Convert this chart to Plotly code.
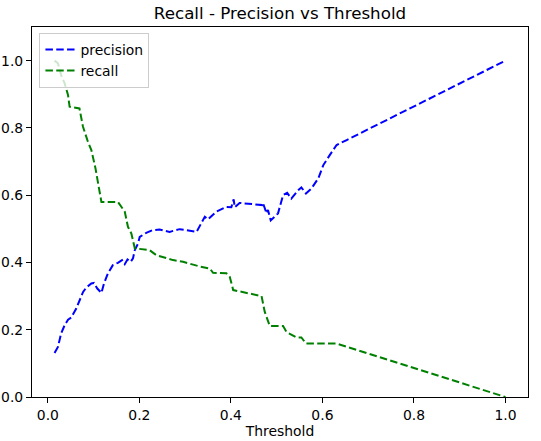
import plotly.graph_objects as go

precision_threshold = [0.0146, 0.022, 0.029, 0.0365, 0.044, 0.051, 0.062, 0.069, 0.077, 0.084,
                       0.095, 0.1007, 0.108, 0.117, 0.1226, 0.131, 0.142, 0.153, 0.162, 0.168,
                       0.174, 0.181, 0.186, 0.190, 0.197, 0.2007, 0.215, 0.229, 0.244, 0.266,
                       0.288, 0.325, 0.336, 0.343, 0.350, 0.368, 0.390, 0.401, 0.406, 0.4085,
                       0.419, 0.449, 0.469, 0.470, 0.478, 0.481, 0.487, 0.503, 0.514, 0.523,
                       0.532, 0.547, 0.554, 0.564, 0.576, 0.591, 0.602, 0.616, 0.631, 0.653, 1.0]
precision = [0.131, 0.149, 0.189, 0.213, 0.230, 0.236, 0.263, 0.288, 0.3125, 0.3255,
             0.3375, 0.339, 0.3225, 0.3095, 0.3375, 0.367, 0.392, 0.399, 0.407, 0.395,
             0.409, 0.402, 0.412, 0.437, 0.456, 0.476, 0.488, 0.496, 0.498, 0.491,
             0.499, 0.491, 0.516, 0.536, 0.528, 0.551, 0.565, 0.564, 0.5875, 0.564,
             0.577, 0.5725, 0.5705, 0.577, 0.546, 0.556, 0.525, 0.546, 0.600, 0.607,
             0.590, 0.615, 0.623, 0.605, 0.620, 0.650, 0.6895, 0.719, 0.749, 0.764, 1.0]

recall_threshold = [0.0146, 0.022, 0.029, 0.0365, 0.044, 0.0475, 0.069, 0.0766, 0.0875, 0.095,
                    0.104, 0.113, 0.117, 0.153, 0.168, 0.175, 0.1825, 0.190, 0.2225, 0.237,
                    0.2735, 0.2954, 0.332, 0.354, 0.361, 0.390, 0.3976, 0.405, 0.467, 0.474,
                    0.485, 0.514, 0.5217, 0.5435, 0.554, 0.564, 0.631, 1.0]
recall = [1.0, 0.992, 0.957, 0.933, 0.898, 0.863, 0.858, 0.804, 0.759, 0.734,
          0.680, 0.605, 0.580, 0.580, 0.551, 0.506, 0.486, 0.442, 0.4365, 0.4217,
          0.407, 0.402, 0.388, 0.382, 0.369, 0.368, 0.357, 0.318, 0.300, 0.253,
          0.211, 0.211, 0.193, 0.177, 0.177, 0.159, 0.159, 0.0]

tick_vals = [0.0, 0.2, 0.4, 0.6, 0.8, 1.0]
tick_text = ["0.0", "0.2", "0.4", "0.6", "0.8", "1.0"]

FONT = "DejaVu Sans"
DASH = "7.5px,3.3px"

fig = go.Figure()
fig.add_trace(go.Scatter(x=precision_threshold, y=precision, mode="lines", name="precision",
                         line=dict(color="#0000ff", width=2, dash=DASH)))
fig.add_trace(go.Scatter(x=recall_threshold, y=recall, mode="lines", name="recall",
                         line=dict(color="#008000", width=2, dash=DASH)))

axis_common = dict(showgrid=False, zeroline=False, showline=True, linecolor="black", linewidth=1.1,
                   mirror=True, ticks="outside", ticklen=5, tickwidth=1.1, tickcolor="black",
                   automargin=False,
                   tickfont=dict(family=FONT, size=13.9, color="black"),
                   tickvals=tick_vals, ticktext=tick_text)

fig.update_layout(
    width=541, height=441,
    margin=dict(l=32, r=13, t=27, b=44, autoexpand=False),
    paper_bgcolor="white", plot_bgcolor="white",
    font=dict(family=FONT, color="black"),
    title=dict(text="Recall - Precision vs Threshold", x=0.5, xref="paper", xanchor="center",
               y=1 - 13/441, yanchor="middle", font=dict(family=FONT, size=16.7, color="black")),
    xaxis=dict(range=[-0.0347, 1.0493],
               title=dict(text="Threshold", font=dict(family=FONT, size=13.9, color="black"), standoff=4),
               **axis_common),
    yaxis=dict(range=[0, 1.1], **axis_common),
    legend=dict(x=0.015, y=0.984, xanchor="left", yanchor="top",
                bgcolor="rgba(255,255,255,0.8)", bordercolor="#cccccc", borderwidth=1,
                font=dict(family=FONT, size=13.9, color="black"),
                itemwidth=30, tracegroupgap=0),
    showlegend=True,
)

fig.write_html("out.html", config={"displayModeBar": False},
               post_script="document.body.style.margin='0';document.body.style.padding='0';")
